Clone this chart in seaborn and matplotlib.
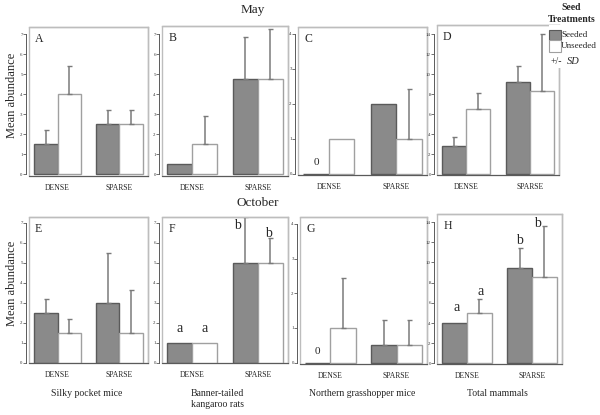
import numpy as np
import pandas as pd
import matplotlib
matplotlib.use("Agg")
import matplotlib.pyplot as plt
from matplotlib.patches import Rectangle
import seaborn as sns

sns.set_theme(style="white")
plt.rcParams['font.family'] = ['Liberation Serif', 'DejaVu Serif']

# ---------------- data ----------------
habitats = ["DENSE", "SPARSE"]
treatments = ["Seeded", "Unseeded"]
panel_letters = ["A", "B", "C", "D", "E", "F", "G", "H"]
species = ["Silky pocket mice", "Banner-tailed\nkangaroo rats",
           "Northern grasshopper mice", "Total mammals"]
months = ["May", "October"]

# mean values [dense, sparse] per treatment
seeded_means = {
    "A": [1.5, 2.5], "B": [0.5, 4.75], "C": [0.0, 2.0], "D": [2.75, 9.2],
    "E": [2.5, 3.0], "F": [1.0, 5.0], "G": [0.0, 0.5], "H": [4.0, 9.5],
}
unseeded_means = {
    "A": [4.0, 2.5], "B": [1.5, 4.75], "C": [1.0, 1.0], "D": [6.5, 8.3],
    "E": [1.5, 1.5], "F": [1.0, 5.0], "G": [1.0, 0.5], "H": [5.0, 8.55],
}
nan = np.nan
seeded_sd = {
    "A": [0.72, 0.72], "B": [nan, 2.1], "C": [nan, nan], "D": [0.9, 1.55],
    "E": [0.7, 2.5], "F": [nan, 2.3], "G": [nan, 0.72], "H": [nan, 1.9],
}
unseeded_sd = {
    "A": [1.42, 0.72], "B": [1.43, 2.48], "C": [nan, 1.43], "D": [1.6, 5.7],
    "E": [0.67, 2.12], "F": [nan, 1.25], "G": [1.43, 0.72], "H": [1.4, 5.05],
}
y_max = {"A": 7, "B": 7, "C": 4, "D": 14, "E": 7, "F": 7, "G": 4, "H": 14}
zero_labels = {"C": "0", "G": "0"}
# significance letters: [seeded(dense, sparse), unseeded(dense, sparse)]
sig_letters = {
    "F": [["a", "b"], ["a", "b"]],
    "H": [["a", "b"], ["a", "b"]],
}
# baseline height (data units) of each significance letter
sig_letter_y = {
    "F": [[1.55, 6.7], [1.55, 6.3]],
    "H": [[5.2, 11.8], [6.8, 13.5]],
}

# ---------------- layout (pixel boxes: left, top, right, bottom) ----------------
W, H = 600, 415
boxes = {
    "A": (29, 27, 148, 176), "B": (162, 26, 288, 176),
    "C": (298, 27, 427, 175), "D": (437, 25, 559, 175),
    "E": (29, 217, 148, 363), "F": (162, 217, 288, 363),
    "G": (300, 217, 427, 364), "H": (437, 214, 562, 364),
}
ylims = {"A": (-0.08, 7.35), "B": (-0.08, 7.4), "C": (-0.04, 4.2), "D": (-0.1, 14.9),
         "E": (-0.02, 7.3), "F": (-0.02, 7.3), "G": (-0.04, 4.2), "H": (-0.05, 14.8)}
letter_dx = {"F": [[0, -8], [0, -2]], "H": [[2, 0], [1, -7]]}

seeded_col = "#8a8a8a"
light = "#bdbdbd"
dark = "#5a5a5a"
err_col = "#7a7a7a"

fig = plt.figure(figsize=(6, 4.15), dpi=100)

for letter in panel_letters:
    l, t, r, b = boxes[letter]
    ax = fig.add_axes([l / W, 1 - b / H, (r - l) / W, (b - t) / H])
    df = pd.DataFrame({
        "habitat": habitats * 2,
        "treatment": [treatments[0]] * 2 + [treatments[1]] * 2,
        "mean": seeded_means[letter] + unseeded_means[letter],
    })
    sns.barplot(data=df, x="habitat", y="mean", hue="treatment",
                hue_order=treatments, order=habitats,
                palette={"Seeded": seeded_col, "Unseeded": "white"},
                width=0.76, errorbar=None, legend=False, ax=ax,
                linewidth=1.0, saturation=1)
    bar_conts = list(ax.containers)
    for i, cont in enumerate(bar_conts):
        for p in cont:
            p.set_edgecolor(dark if i == 0 else "#a0a0a0")
    # error bars (upward only)
    sds = [seeded_sd[letter], unseeded_sd[letter]]
    for i, cont in enumerate(bar_conts):
        for j, p in enumerate(cont):
            sd = sds[i][j]
            xc = p.get_x() + p.get_width() / 2
            top = p.get_height()
            if not np.isnan(sd):
                ax.errorbar([xc], [top], yerr=[[0], [sd]], fmt="none",
                            ecolor=err_col, elinewidth=1.1, capsize=1.8,
                            capthick=1.0, zorder=1)
    # significance letters
    if letter in sig_letters:
        for i, cont in enumerate(bar_conts):
            for j, p in enumerate(cont):
                xc = p.get_x() + p.get_width() / 2
                ax.annotate(sig_letters[letter][i][j],
                            (xc, sig_letter_y[letter][i][j]),
                            xytext=(letter_dx[letter][i][j] * 0.72, 0),
                            textcoords="offset points",
                            ha="center", va="baseline", fontsize=10)
    if letter in zero_labels:
        p = bar_conts[0][0]
        ax.annotate(zero_labels[letter], (p.get_x() + p.get_width() / 2, 0),
                    xytext=(0, 5), textcoords="offset points",
                    ha="center", va="bottom", fontsize=8)

    ax.set_xlim(-0.46, 1.46)
    ax.set_ylim(*ylims[letter])
    ymax = y_max[letter]
    step = 2 if ymax == 14 else 1
    ax.set_yticks(np.arange(0, ymax + 1, step))
    ax.tick_params(axis="y", which="both", left=True, length=2, width=0.6,
                   color=dark, labelsize=3.5, pad=0.5, labelcolor="#333333")
    ax.tick_params(axis="x", bottom=False, length=0, labelsize=5.5, pad=6,
                   labelcolor="#222222")
    ax.set_xlabel("")
    ax.set_ylabel("")
    for s in ["top", "right"]:
        ax.spines[s].set_color(light)
        ax.spines[s].set_linewidth(1.0)
    ax.spines["bottom"].set_color(dark)
    ax.spines["bottom"].set_linewidth(0.8)
    ax.spines["left"].set_color(dark)
    ax.spines["left"].set_linewidth(0.7)
    ax.spines["left"].set_position(("outward", 2))
    ax.spines["left"].set_bounds(0, ymax)
    ax.add_patch(Rectangle((0, 0), 1, 1, transform=ax.transAxes, fill=False,
                           edgecolor=light, linewidth=1.0, clip_on=False, zorder=0))
    ax.text(0.05, 0.96, letter, transform=ax.transAxes, ha="left", va="top",
            fontsize=8.5)

# y labels
fig.text(12 / W, 1 - 95 / H, "Mean abundance", rotation=90, ha="center",
         va="center", fontsize=9)
fig.text(12 / W, 1 - 283 / H, "Mean abundance", rotation=90, ha="center",
         va="center", fontsize=9)
# month titles
fig.text(253 / W, 1 - 10 / H, months[0], ha="center", va="center", fontsize=9.5)
fig.text(258 / W, 1 - 203 / H, months[1], ha="center", va="center", fontsize=9.5)
# species labels
sp_x = [87, 217, 362, 497]
for sx, name in zip(sp_x, species):
    fig.text(sx / W, 1 - 389 / H, name, ha="center", va="top", fontsize=7,
             linespacing=1.35)

# legend (covers the top-right corner of panel D)
fig.patches.append(Rectangle((549 / W, 1 - 68 / H), 51 / W, 43 / H,
                             transform=fig.transFigure, facecolor="white",
                             edgecolor="none", zorder=5))
fig.text(571 / W, 1 - 8 / H, "Seed", ha="center", va="center", fontsize=7,
         fontweight="bold", zorder=6)
fig.text(572 / W, 1 - 19 / H, "Treatments", ha="center", va="center",
         fontsize=7, fontweight="bold", zorder=6)
fig.patches.append(Rectangle((549 / W, 1 - 40 / H), 12 / W, 10 / H,
                             transform=fig.transFigure, facecolor=seeded_col,
                             edgecolor=dark, linewidth=0.8, zorder=6))
fig.patches.append(Rectangle((549 / W, 1 - 52 / H), 12 / W, 12 / H,
                             transform=fig.transFigure, facecolor="white",
                             edgecolor="#a0a0a0", linewidth=0.8, zorder=6))
fig.text(561 / W, 1 - 35 / H, treatments[0], ha="left", va="center",
         fontsize=6.5, zorder=7)
fig.text(561 / W, 1 - 46 / H, treatments[1], ha="left", va="center",
         fontsize=6.5, zorder=7)
fig.text(551 / W, 1 - 61 / H, "+/-", ha="left", va="center", fontsize=7,
         zorder=7)
fig.text(567 / W, 1 - 61 / H, "SD", ha="left", va="center", fontsize=7.5,
         style="italic", zorder=7)

fig.savefig("out.png", dpi=100, facecolor="white")
